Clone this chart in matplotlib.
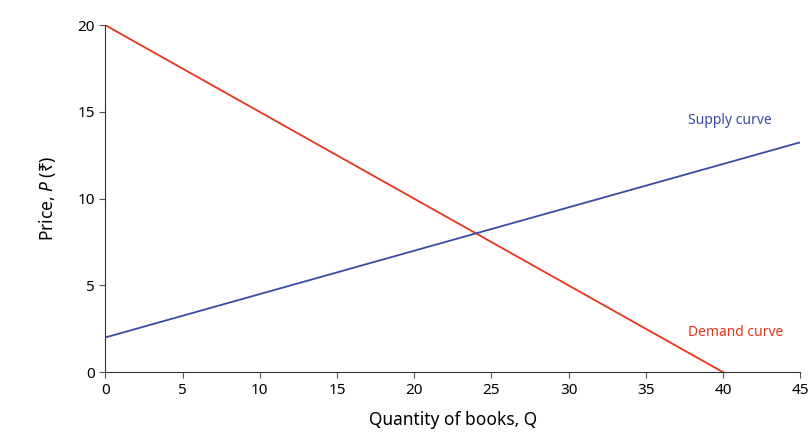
import matplotlib.pyplot as plt

plt.rcParams['font.family'] = ['Noto Sans', 'DejaVu Sans']
plt.rcParams['mathtext.fontset'] = 'custom'
plt.rcParams['mathtext.it'] = 'Noto Sans:italic'
plt.rcParams['mathtext.rm'] = 'Noto Sans'

demand_q = [0, 40]
demand_p = [20, 0]
supply_q = [0, 45]
supply_p = [2, 13.25]

xticks = list(range(0, 50, 5))
yticks = [0, 5, 10, 15, 20]

fig = plt.figure(figsize=(8.1, 4.42), dpi=100)
ax = fig.add_axes([0.13, 0.158, 0.858, 0.785])

red = '#e8341c'
blue = '#3b4ba3'
ax.plot(demand_q, demand_p, color=red, lw=1.3)
ax.plot(supply_q, supply_p, color=blue, lw=1.3)

ax.text(37.7, 2.1, 'Demand curve', color=red, fontsize=10)
ax.text(37.7, 14.3, 'Supply curve', color=blue, fontsize=10)

ax.set_xlim(0, 45)
ax.set_ylim(0, 20)
ax.set_xticks(xticks)
ax.set_yticks(yticks)
ax.tick_params(labelsize=11, color='#555555', length=4)
for s in ['top', 'right']:
    ax.spines[s].set_visible(False)
for s in ['left', 'bottom']:
    ax.spines[s].set_color('#333333')

ax.set_xlabel('Quantity of books, Q', fontsize=12.5, labelpad=10)
ax.set_ylabel('Price, $P$ (₹)', fontsize=12.5, labelpad=14)

fig.savefig('out.png', dpi=100)
